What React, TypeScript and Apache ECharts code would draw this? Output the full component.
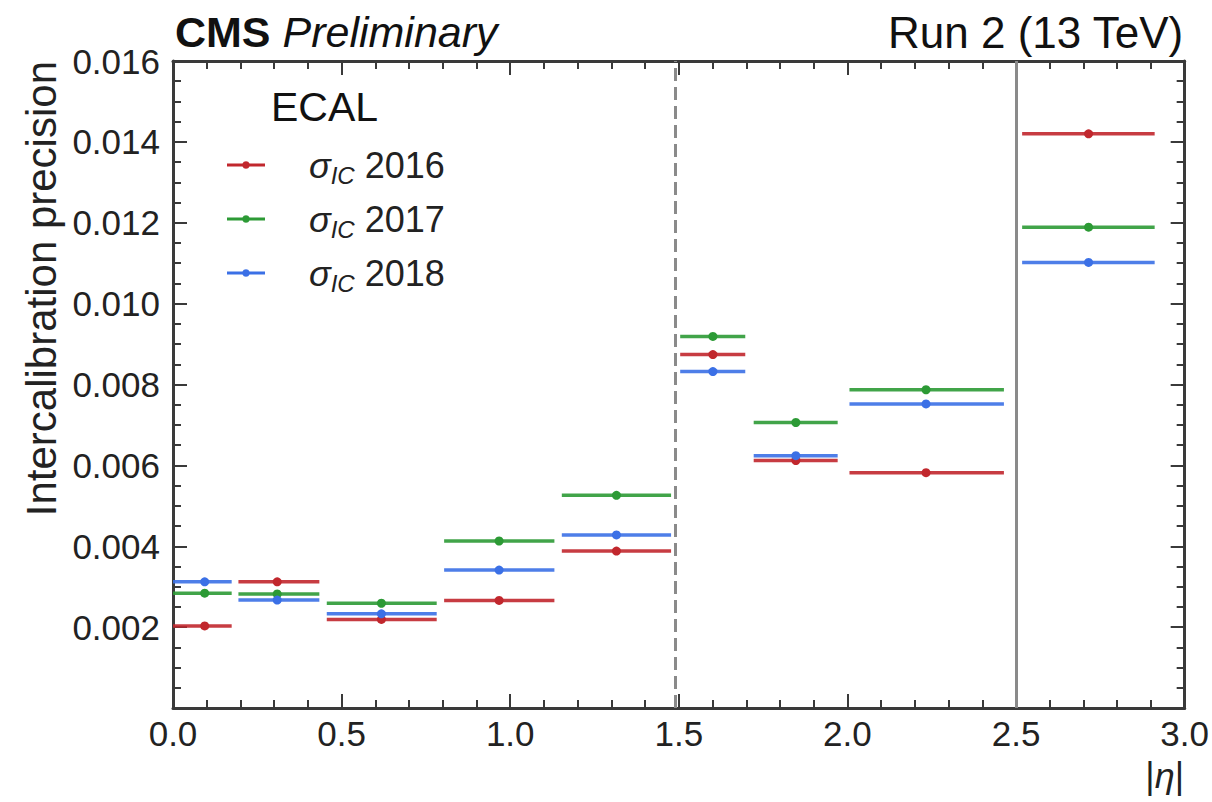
import React, { useEffect, useRef } from "react";
import * as echarts from "echarts";

// Eta bins (|eta| ranges drawn as horizontal bars, marker at bin centre)
const binLow = [0.0, 0.194, 0.456, 0.804, 1.153, 1.504, 1.722, 2.006, 2.518];
const binHigh = [0.174, 0.434, 0.782, 1.131, 1.477, 1.697, 1.971, 2.464, 2.911];
const binCenter = [0.094, 0.309, 0.618, 0.967, 1.315, 1.601, 1.847, 2.233, 2.715];

// Intercalibration precision per year
const years = ["2016", "2017", "2018"];
const sigma2016 = [0.00203, 0.00312, 0.00219, 0.00266, 0.00388, 0.00874, 0.00612, 0.00582, 0.0142];
const sigma2017 = [0.00284, 0.00282, 0.00259, 0.00413, 0.00526, 0.00919, 0.00706, 0.00787, 0.01189];
const sigma2018 = [0.00312, 0.00267, 0.00233, 0.00341, 0.00428, 0.00832, 0.00624, 0.00752, 0.01102];
const seriesValues = [sigma2016, sigma2017, sigma2018];
const colors = ["#c1272d", "#2c9a35", "#3b70e6"];

// Detector boundaries: barrel edge (dashed) and tracker acceptance (solid)
const barrelEdge = 1.49;
const trackerEdge = 2.5;

const yTicks = [0, 0.002, 0.004, 0.006, 0.008, 0.01, 0.012, 0.014, 0.016];
const xTicks = [0, 0.5, 1.0, 1.5, 2.0, 2.5, 3.0];

const FONT = "'Liberation Sans', Arial, Helvetica, sans-serif";
const AXIS_COLOR = "#3a3a3a";

const legendIcon =
  "path://M0,-1.5 L16.29,-1.5 A4,4 0 0 1 23.71,-1.5 L40,-1.5 L40,1.5 L23.71,1.5 A4,4 0 0 1 16.29,1.5 L0,1.5 Z";

export default function App() {
  const ref = useRef<HTMLDivElement>(null);

  useEffect(() => {
    if (!ref.current) return;
    const chart = echarts.init(ref.current, null, { renderer: "svg" });

    const xMin = xTicks[0];
    const xMax = xTicks[xTicks.length - 1];
    const yMin = yTicks[0];
    const yMax = yTicks[yTicks.length - 1];

    const baseX = {
      type: "value" as const,
      min: xMin,
      max: xMax,
      interval: 0.5,
      splitLine: { show: false },
      axisLine: { show: true, onZero: false, lineStyle: { color: AXIS_COLOR, width: 3 } },
      axisTick: { show: true, inside: true, length: 14, lineStyle: { color: AXIS_COLOR, width: 2 } },
      minorTick: { show: true, splitNumber: 5, length: 8, lineStyle: { color: AXIS_COLOR, width: 2 } },
    };
    const baseY = {
      type: "value" as const,
      min: yMin,
      max: yMax,
      interval: 0.002,
      splitLine: { show: false },
      axisLine: { show: true, onZero: false, lineStyle: { color: AXIS_COLOR, width: 3 } },
      axisTick: { show: true, inside: true, length: 14, lineStyle: { color: AXIS_COLOR, width: 2 } },
      minorTick: { show: true, splitNumber: 4, length: 8, lineStyle: { color: AXIS_COLOR, width: 2 } },
    };

    const dataSeries = years.map((year, si) => ({
      name: `σIC ${year}`,
      type: "custom" as const,
      xAxisIndex: 0,
      yAxisIndex: 0,
      itemStyle: { color: colors[si] },
      encode: { x: [0, 1, 2], y: 3 },
      data: binLow.map((lo, i) => [lo, binHigh[i], binCenter[i], seriesValues[si][i]]),
      renderItem: (_params: any, api: any) => {
        const v = api.value(3);
        const p0 = api.coord([api.value(0), v]);
        const p1 = api.coord([api.value(1), v]);
        const pc = api.coord([api.value(2), v]);
        return {
          type: "group",
          children: [
            {
              type: "line",
              shape: { x1: p0[0], y1: p0[1], x2: p1[0], y2: p1[1] },
              style: { stroke: colors[si], lineWidth: 3.5, opacity: 0.9 },
            },
            {
              type: "circle",
              shape: { cx: pc[0], cy: pc[1], r: 4.5 },
              style: { fill: colors[si] },
            },
          ],
        };
      },
    }));

    const option = {
      animation: false,
      grid: { left: 173, right: 27, top: 61, bottom: 94, containLabel: false },
      xAxis: [
        {
          ...baseX,
          position: "bottom",
          axisLabel: {
            show: true,
            margin: 8,
            fontSize: 35,
            color: "#222",
            fontFamily: FONT,
            formatter: (v: number) => v.toFixed(1),
          },
        },
        { ...baseX, position: "top", axisLabel: { show: false } },
      ],
      yAxis: [
        {
          ...baseY,
          position: "left",
          axisLabel: {
            show: true,
            margin: 13,
            fontSize: 35,
            color: "#222",
            fontFamily: FONT,
            formatter: (v: number) => (v === 0 ? "" : v.toFixed(3)),
          },
        },
        { ...baseY, position: "right", axisLabel: { show: false } },
      ],
      legend: {
        show: true,
        orient: "vertical",
        left: 222,
        top: 142,
        itemWidth: 38,
        itemHeight: 8,
        itemGap: 14,
        selectedMode: false,
        icon: legendIcon,
        data: years.map((y) => `σIC ${y}`),
        formatter: (name: string) => `{p| }{s|σ}{sub|IC}{y| ${name.slice(-4)}}`,
        textStyle: {
          fontFamily: FONT,
          color: "#222",
          rich: {
            p: { width: 39, fontSize: 36, lineHeight: 44 },
            s: { fontSize: 36, fontStyle: "italic", fontFamily: FONT, color: "#222", lineHeight: 44 },
            sub: {
              fontSize: 24,
              fontStyle: "italic",
              fontFamily: FONT,
              color: "#222",
              lineHeight: 24,
              verticalAlign: "bottom",
            },
            y: { fontSize: 36, fontFamily: FONT, color: "#222", lineHeight: 44 },
          },
        },
      },
      graphic: [
        {
          type: "text",
          left: 175,
          top: 10,
          style: {
            text: "{b|CMS}{i| Preliminary}",
            fontFamily: FONT,
            rich: {
              b: { fontSize: 43, fontWeight: "bold", fontFamily: FONT, fill: "#111" },
              i: { fontSize: 43, fontStyle: "italic", fontFamily: FONT, fill: "#111" },
            },
          },
        },
        {
          type: "text",
          right: 28,
          top: 10,
          style: { text: "Run 2 (13 TeV)", fontSize: 44, fontFamily: FONT, fill: "#111" },
        },
        {
          type: "text",
          left: 271,
          top: 86,
          style: { text: "ECAL", fontSize: 41, fontFamily: FONT, fill: "#111" },
        },
        {
          type: "text",
          x: 41,
          y: 61,
          rotation: Math.PI / 2,
          style: {
            text: "Intercalibration precision",
            fontSize: 42,
            fontFamily: FONT,
            fill: "#222",
            align: "right",
            verticalAlign: "middle",
          },
        },
        {
          type: "text",
          right: 28,
          top: 757,
          style: {
            text: "|{e|η}|",
            fontSize: 36,
            fontFamily: FONT,
            fill: "#222",
            rich: { e: { fontSize: 36, fontStyle: "italic", fontFamily: FONT, fill: "#222" } },
          },
        },
      ],
      series: [
        ...dataSeries,
        {
          name: "boundaries",
          type: "line",
          data: [],
          silent: true,
          markLine: {
            symbol: "none",
            silent: true,
            label: { show: false },
            data: [
              { xAxis: barrelEdge, lineStyle: { color: "#8a8a8a", width: 3, type: [13, 6] } },
              { xAxis: trackerEdge, lineStyle: { color: "#8a8a8a", width: 3, type: "solid" } },
            ],
          },
        },
      ],
    };

    chart.setOption(option as any);
    return () => chart.dispose();
  }, []);

  return (
    <div
      ref={ref}
      style={{ position: "fixed", left: 0, top: 0, width: 1212, height: 802, background: "#fff" }}
    />
  );
}
